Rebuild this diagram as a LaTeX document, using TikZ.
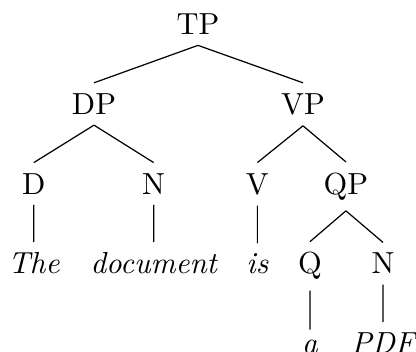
\documentclass[tikz,border=0pt]{standalone}
\usepackage{tikz}
\tikzset{
  cat/.style={anchor=base,inner sep=3.33pt},
  leafw/.style={cat,font=\itshape}
}
\begin{document}
\begin{tikzpicture}
  \useasboundingbox (0,0) rectangle (4.797,4.059);
  % phrase levels
  \node[cat] (TP) at (2.283,3.66) {TP};
  \node[cat] (DP) at (1.084,2.74) {DP};
  \node[cat] (VP) at (3.494,2.74) {VP};
  \node[cat] (D1) at (0.39,1.82) {D};
  \node[cat] (N1) at (1.772,1.82) {N};
  \node[cat] (V1) at (2.968,1.82) {V};
  \node[cat] (QP) at (3.989,1.82) {QP};
  % words
  \node[leafw] (The) at (0.39,0.90) {The};
  \node[leafw] (doc) at (1.772,0.90) {document};
  \node[leafw] (is) at (2.968,0.90) {is};
  \node[cat] (Q1) at (3.574,0.90) {Q};
  \node[cat] (N2) at (4.416,0.90) {N};
  \node[leafw] (a) at (3.574,-0.02) {a};
  \node[leafw] (PDF) at (4.416,-0.02) {PDF};
  \draw (TP.south)--(DP.north) (TP.south)--(VP.north)
        (DP.south)--(D1.north) (DP.south)--(N1.north)
        (VP.south)--(V1.north) (VP.south)--(QP.north)
        (D1.south)--(The.north) (N1.south)--(doc.north)
        (V1.south)--(is.north)
        (QP.south)--(Q1.north) (QP.south)--(N2.north)
        (Q1.south)--(a.north) (N2.south)--(PDF.north);
\end{tikzpicture}
\end{document}
